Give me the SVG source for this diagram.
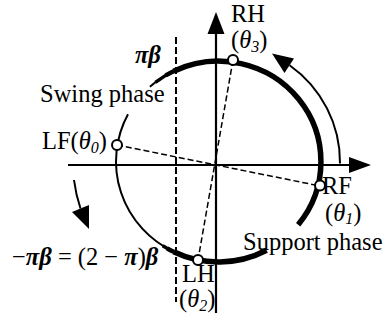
<svg xmlns="http://www.w3.org/2000/svg" width="388" height="323" viewBox="0 0 388 323">
<style>
text { font-family: "Liberation Serif", "Times New Roman", serif; font-size: 24.5px; fill: #000; }
.it { font-style: italic; }
.bi { font-style: italic; font-weight: bold; }
.sub { font-size: 16px; font-style: italic; }
.thin { fill: none; stroke: #000; stroke-width: 2; }
.thick { fill: none; stroke: #000; stroke-width: 5.5; }
.axis { fill: none; stroke: #000; stroke-width: 2.2; }
.dash { fill: none; stroke: #000; stroke-width: 1.5; stroke-dasharray: 6 3; }
.vdash { fill: none; stroke: #000; stroke-width: 2; stroke-dasharray: 7 3; }
.node { fill: #fff; stroke: #000; stroke-width: 2; }
.head { fill: #000; stroke: none; }
</style>
<rect x="0" y="0" width="388" height="323" fill="#fff"/>
<g id="connectors">
  <!-- axes -->
  <line class="axis" x1="68" y1="165" x2="352" y2="165"/>
  <polygon class="head" points="371,165 349,157 349,173"/>
  <line class="axis" x1="216" y1="313" x2="216" y2="30"/>
  <polygon class="head" points="216,12 207.5,34 224.5,34"/>
  <!-- vertical dashed line -->
  <line class="vdash" x1="176" y1="37" x2="176" y2="302"/>
  <!-- dashed diameters -->
  <line class="dash" x1="117" y1="145" x2="320" y2="186"/>
  <line class="dash" x1="233" y1="60" x2="198" y2="260"/>
  <!-- thin swing-phase circle -->
  <path class="thin" d="M173.6 251.8 A102.5 100.5 0 0 1 128 114.3"/>
  <path class="thin" d="M149.9 86.8 A102.5 100.5 0 0 1 176.8 69.7"/>
  <!-- taper -->
  <path fill="none" stroke="#000" stroke-width="3.4" d="M155.4 82.3 A102.5 100.5 0 0 1 176.8 69.7"/>
  <path fill="none" stroke="#000" stroke-width="4.5" d="M165.7 75.35 A102.5 100.5 0 0 1 176.8 69.7"/>
  <path fill="none" stroke="#000" stroke-width="4.5" d="M173.6 251.8 A102.5 100.5 0 0 1 167.25 248.5"/>
  <path fill="none" stroke="#000" stroke-width="3.4" d="M173.6 251.8 A102.5 100.5 0 0 1 162.7 245.8"/>
  <!-- thick support-phase arcs -->
  <path class="thick" d="M173.6 71.2 A102.5 100.5 0 0 1 298.15 224.75"/>
  <path class="thick" d="M266.6 250.2 A102.5 100.5 0 0 1 173.6 251.8"/>
  <!-- direction arrows -->
  <path class="thin" d="M340 163.6 A121.5 119.5 0 0 0 289.6 65.2"/>
  <polygon class="head" points="272,53.5 294,58.5 284.5,73"/>
  <path class="thin" d="M74 180 A145.5 145.5 0 0 0 80.5 208.5"/>
  <polygon class="head" points="89,229 72,212 89,205"/>
</g>
<g id="node-RH">
  <circle class="node" cx="233" cy="60" r="5"/>
  <text x="231" y="22">RH</text>
  <text x="231" y="48">(<tspan class="it">θ</tspan><tspan class="sub" dy="4">3</tspan><tspan dy="-4">)</tspan></text>
</g>
<g id="node-RF">
  <circle class="node" cx="320" cy="185.5" r="5"/>
  <text x="322" y="194">RF</text>
  <text x="325" y="221" font-size="23">(<tspan class="it">θ</tspan><tspan class="sub" dy="3">1</tspan><tspan dy="-3">)</tspan></text>
</g>
<g id="node-LH">
  <circle class="node" cx="198" cy="260" r="5"/>
  <text x="182" y="282">LH</text>
  <text x="179" y="307">(<tspan class="it">θ</tspan><tspan class="sub" dy="4">2</tspan><tspan dy="-4">)</tspan></text>
</g>
<g id="node-LF">
  <circle class="node" cx="117" cy="145" r="5"/>
  <text x="42" y="149">LF(<tspan class="it">θ</tspan><tspan class="sub" dy="4">0</tspan><tspan dy="-4">)</tspan></text>
</g>
<g id="labels">
  <text x="135" y="63" class="bi" font-size="22">πβ</text>
  <text x="40" y="102">Swing phase</text>
  <text x="243" y="250">Support phase</text>
  <text x="12" y="265">−<tspan class="bi">πβ</tspan> = (2 − <tspan class="bi">π</tspan>)<tspan class="bi">β</tspan></text>
</g>
</svg>
